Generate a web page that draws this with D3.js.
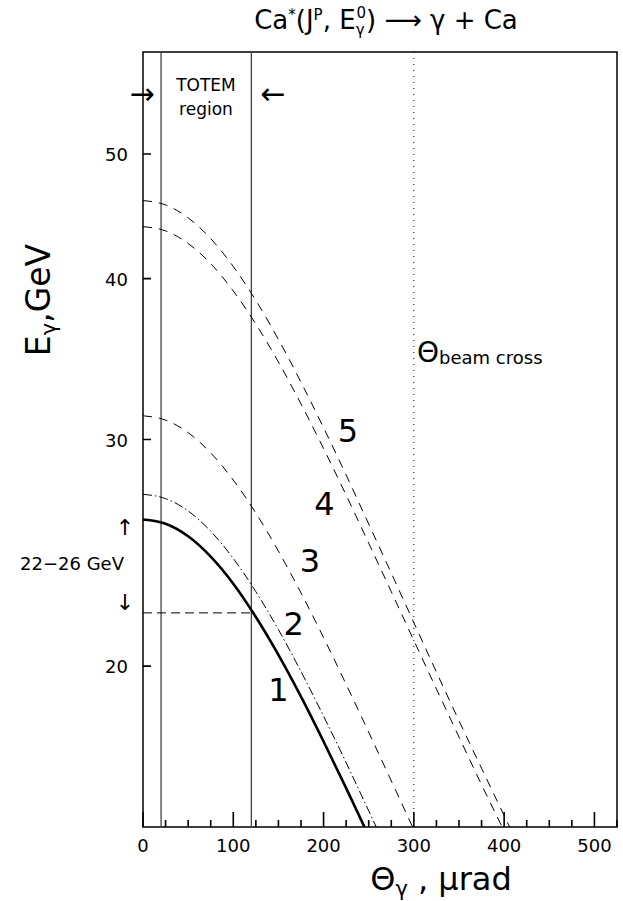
<!DOCTYPE html>
<html><head><meta charset="utf-8">
<script src="https://cdn.jsdelivr.net/npm/d3@7"></script>
<style>body{margin:0;background:#fff}text{font-family:"DejaVu Sans",sans-serif;fill:#000}</style>
</head><body><svg id="c" width="623" height="901"></svg>
<script>
// Data: theta in microrad, E in GeV
const theta = [0,25,50,75,100,125,150,175,200,225,250,275,300,325,350,375,400,425];
const curve1 = [26.0,25.80,25.23,24.33,23.18,21.84,20.41,18.94,17.48,16.08,14.76];
const curve2 = [27.2,26.99,26.40,25.46,24.25,22.85,21.35,19.81,18.29,16.83,15.44,14.16];
const curve3 = [31.3,31.06,30.37,29.29,27.90,26.30,24.57,22.80,21.05,19.36,17.77,16.29,14.93];
const curve4 = [43.9,43.57,42.60,41.09,39.13,36.88,34.46,31.97,29.52,27.16,24.92,22.85,20.94,19.20,17.62,16.18,14.89];
const curve5 = [46.0,45.64,44.60,42.97,40.88,38.47,35.88,33.24,30.64,28.15,25.79,23.62,21.62,19.79,18.14,16.66,15.31,14.09];
const curveNames = ["1","2","3","4","5"];
const labelTheta = [150,167,185,201,227];
const labelE = [19.2,21.6,24.2,26.8,30.5];
const xMajor = [0,100,200,300,400,500];
const xMinor = [25,50,75,125,150,175,225,250,275,325,350,375,425,450,475,525];
const yTicks = [20,30,40,50];
const totemLines = [20,120];
const beamCross = 300;
const eCut = 22;

const svg = d3.select("#c");
const x = d3.scaleLinear().domain([0,525]).range([143,617]);
const y = d3.scaleLog().domain([15,60]).range([827,52]);
const x0 = x.range()[0], x1 = x.range()[1], yb = y.range()[0], yt = y.range()[1];

svg.append("defs").append("clipPath").attr("id","clip")
  .append("rect").attr("x",x0).attr("y",yt).attr("width",x1-x0).attr("height",yb-yt);

// Frame
svg.append("path")
  .attr("d",`M${x0},${yt}H${x1}V${yb}H${x0}Z`)
  .attr("fill","none").attr("stroke","#000").attr("stroke-width",1.5);

// ticks (pointing inward)
const tickPath = d3.path();
xMinor.forEach(d=>{tickPath.moveTo(x(d),yb);tickPath.lineTo(x(d),yb-7);});
xMajor.forEach(d=>{tickPath.moveTo(x(d),yb);tickPath.lineTo(x(d),yb-15);});
yTicks.forEach(d=>{tickPath.moveTo(x0,y(d));tickPath.lineTo(x0+8,y(d));});
svg.append("path").attr("d",tickPath.toString()).attr("fill","none")
  .attr("stroke","#000").attr("stroke-width",1.6);

svg.selectAll(".xtl").data(xMajor).enter().append("text")
  .attr("x",d=>x(d)).attr("y",yb+25).attr("text-anchor","middle").attr("font-size",18)
  .text(d3.format("d"));
svg.selectAll(".ytl").data(yTicks).enter().append("text")
  .attr("x",x0-15).attr("y",d=>y(d)+7).attr("text-anchor","end").attr("font-size",18)
  .text(d3.format("d"));

// TOTEM lines
svg.selectAll(".tot").data(totemLines).enter().append("line")
  .attr("x1",d=>x(d)).attr("x2",d=>x(d)).attr("y1",yt).attr("y2",yb)
  .attr("stroke","#444").attr("stroke-width",1.3);
// beam cross dotted
svg.append("line").attr("x1",x(beamCross)).attr("x2",x(beamCross)).attr("y1",yt).attr("y2",yb)
  .attr("stroke","#000").attr("stroke-width",1).attr("stroke-dasharray","1,5");
// horizontal dashed at 22 GeV
svg.append("line").attr("x1",x(0)).attr("x2",x(120)).attr("y1",y(eCut)).attr("y2",y(eCut))
  .attr("stroke","#000").attr("stroke-width",1).attr("stroke-dasharray","9,5");

const line = d3.line().x(d=>x(d[0])).y(d=>y(d[1])).curve(d3.curveMonotoneX);
const curves = [curve1,curve2,curve3,curve4,curve5];
const styles = [
  {w:2.6,dash:null},
  {w:1,dash:"9,3,1.5,3"},
  {w:1,dash:"9,7"},
  {w:1,dash:"9,7"},
  {w:1,dash:"9,7"}];
const cg = svg.append("g").attr("clip-path","url(#clip)");
curves.forEach((c,i)=>{
  cg.append("path").datum(c.map((v,j)=>[theta[j],v]))
    .attr("d",line).attr("fill","none").attr("stroke","#000")
    .attr("stroke-width",styles[i].w).attr("stroke-dasharray",styles[i].dash);
});
// curve labels
svg.selectAll(".lab").data(curveNames).enter().append("text")
  .attr("x",(d,i)=>x(labelTheta[i])).attr("y",(d,i)=>y(labelE[i])+12)
  .attr("text-anchor","middle").attr("font-size",32).text(d=>d);

// Title
const t = svg.append("text").attr("x",386).attr("y",29).attr("text-anchor","middle").attr("font-size",26);
t.append("tspan").text("Ca");
t.append("tspan").attr("font-size",15).attr("dy",-9).text("*");
t.append("tspan").attr("dy",9).text("(J");
t.append("tspan").attr("font-size",15).attr("dy",-9).text("P");
t.append("tspan").attr("dy",9).text(", E");
t.append("tspan").attr("font-size",15).attr("dy",6).text("γ");
t.append("tspan").attr("font-size",15).attr("dx",-8).attr("dy",-17).text("0");
t.append("tspan").attr("dy",11).text(") ⟶ γ + Ca");

// TOTEM region
svg.append("text").attr("x",206).attr("y",91).attr("text-anchor","middle").attr("font-size",17).text("TOTEM");
svg.append("text").attr("x",206).attr("y",115).attr("text-anchor","middle").attr("font-size",17).text("region");
svg.append("text").attr("x",142).attr("y",104).attr("text-anchor","middle").attr("font-size",30).text("→");
svg.append("text").attr("x",273).attr("y",104).attr("text-anchor","middle").attr("font-size",30).text("←");

// 22-26 GeV
svg.append("text").attr("x",72).attr("y",570).attr("text-anchor","middle").attr("font-size",18).text("22−26 GeV");
svg.append("text").attr("x",125).attr("y",535).attr("text-anchor","middle").attr("font-size",22).text("↑");
svg.append("text").attr("x",125).attr("y",610).attr("text-anchor","middle").attr("font-size",22).text("↓");

// Theta beam cross
const b = svg.append("text").attr("x",417).attr("y",362).attr("font-size",28);
b.append("tspan").text("Θ");
b.append("tspan").attr("font-size",18).attr("dy",2).text("beam cross");

// Axis labels
const xl = svg.append("text").attr("x",441).attr("y",890).attr("text-anchor","middle").attr("font-size",32);
xl.append("tspan").text("Θ");
xl.append("tspan").attr("font-size",21).attr("dy",6).text("γ");
xl.append("tspan").attr("dy",-6).text(" , μrad");

const yl = svg.append("text").attr("transform","translate(50,300) rotate(-90)").attr("text-anchor","middle").attr("font-size",33);
yl.append("tspan").text("E");
yl.append("tspan").attr("font-size",21).attr("dy",6).text("γ");
yl.append("tspan").attr("dy",-6).text(",GeV");
</script></body></html>
